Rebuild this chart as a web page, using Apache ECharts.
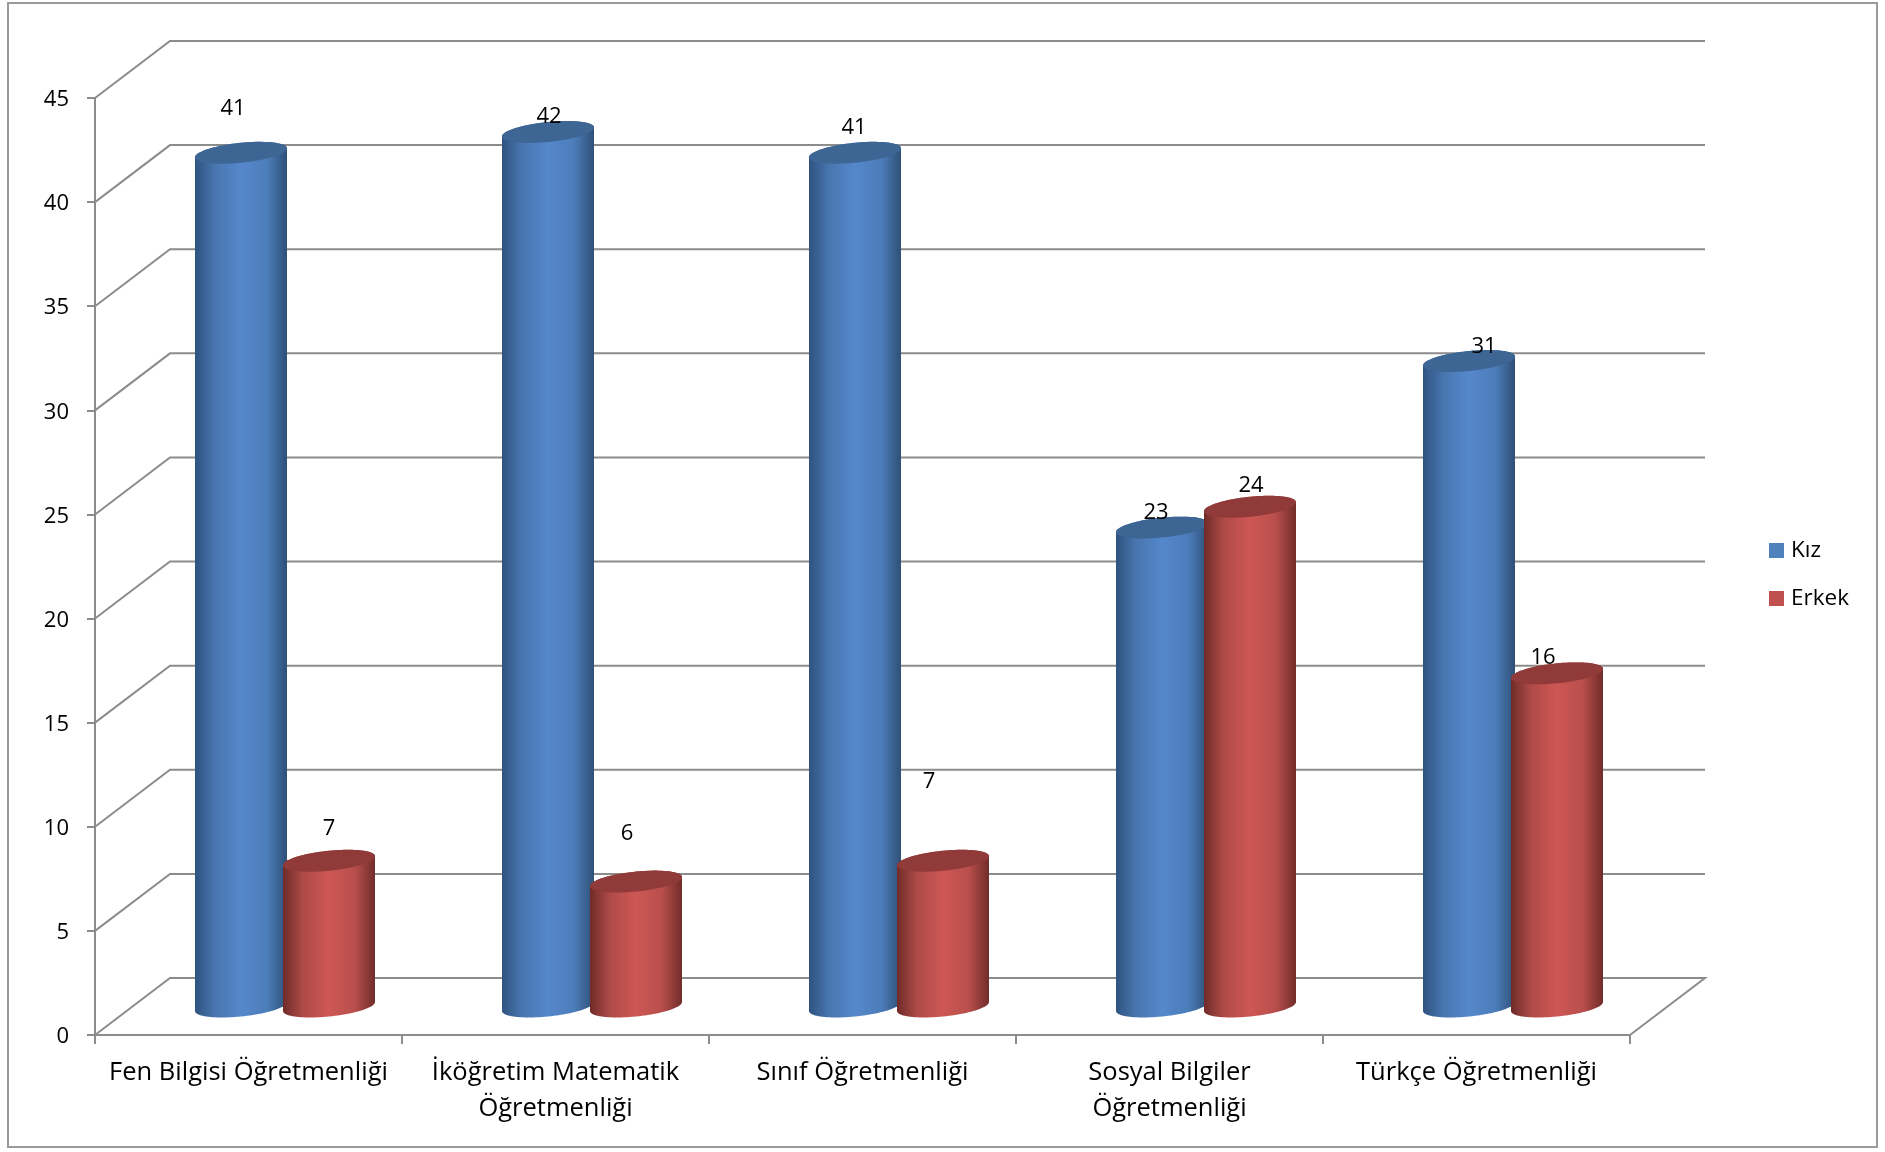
<!DOCTYPE html>
<html>
<head>
<meta charset="utf-8">
<style>html,body{margin:0;padding:0;background:#fff}#c{width:1885px;height:1152px}</style>
<script src="https://cdn.jsdelivr.net/npm/echarts@6/dist/echarts.min.js"></script>
</head>
<body>
<div id="c"></div>
<script>
const categories = ['Fen Bilgisi Öğretmenliği','İköğretim Matematik Öğretmenliği','Sınıf Öğretmenliği','Sosyal Bilgiler Öğretmenliği','Türkçe Öğretmenliği'];
const kiz = [41,42,41,23,31];
const erkek = [7,6,7,24,16];
const yTicks = [0,5,10,15,20,25,30,35,40,45];

// data labels were hand-placed in the original: offset from the cylinder's top centre
const kizLabelShift = [[-8,-44],[1,-15],[-1,-25],[-6,-15],[15,-14]];
const erkekLabelShift = [[0,-32],[-9,-48],[-14,-79],[1,-21],[-14,-16]];

const FONT = '"Open Sans", Calibri, sans-serif';
const GRID_COLOR = '#8c8c8c';
const DEPTH_X = 75, DEPTH_Y = 57;      // oblique depth of the chart box
const BAR_DEPTH_X = 36.5;              // cylinders stand at mid depth
const RADIUS = 46;                     // cylinder half width
const BAR_SHIFT = 44;                  // distance of a cylinder from the category centre
const TILT = 4.5, MINOR = 10;          // shape of the sheared top and bottom ellipses

const blueGrad = ['#2f5380','#4876af','#5587cb','#4c7ebb','#2f5077'];
const redGrad  = ['#6f2b29','#af4b48','#ce5754','#b84f4c','#712c2a'];
const blueTop = '#3d6694', redTop = '#903b39';

function gradient(c){
  return new echarts.graphic.LinearGradient(0,0,1,0,[
    {offset:0,color:c[0]},{offset:0.22,color:c[1]},{offset:0.5,color:c[2]},
    {offset:0.78,color:c[3]},{offset:1,color:c[4]}]);
}
function ell(cx,cy,from,to,n){
  const pts=[];
  for(let i=0;i<=n;i++){
    const t=from+(to-from)*i/n;
    pts.push([cx+RADIUS*Math.cos(t), cy-TILT*Math.cos(t)+MINOR*Math.sin(t)]);
  }
  return pts;
}
function cylinder(side,grad,topColor,shifts){
  return function(params,api){
    const idx=api.value(0), v=api.value(1);
    const top=api.coord([idx,v]), base=api.coord([idx,0]);
    const cx=top[0]+side*BAR_SHIFT+BAR_DEPTH_X;
    const topY=top[1]-DEPTH_Y/2, baseY=base[1]-DEPTH_Y/2;
    const body=ell(cx,baseY,0,Math.PI,48).concat(ell(cx,topY,Math.PI,2*Math.PI,48));
    const s=shifts[params.dataIndex];
    return {type:'group',children:[
      {type:'polygon',shape:{points:body},style:{fill:gradient(grad)}},
      {type:'polygon',shape:{points:ell(cx,topY,0,2*Math.PI,96)},style:{fill:topColor}},
      {type:'text',style:{text:String(v),x:cx+s[0],y:topY+s[1],align:'center',verticalAlign:'middle',
        fontSize:22,fontFamily:FONT,fill:'#000'}}
    ]};
  };
}
function wallLines(params,api){
  const y=api.coord([0,api.value(0)])[1];
  const x0=params.coordSys.x, x1=x0+params.coordSys.width;
  const pts=[[x0,y],[x0+DEPTH_X,y-DEPTH_Y],[x1+DEPTH_X,y-DEPTH_Y]];
  if(api.value(0)===0) pts.push([x1,y]);
  return {type:'polyline',shape:{points:pts},style:{stroke:GRID_COLOR,lineWidth:2,fill:'none'}};
}
// long names wrap before their last word
function wrapName(name){
  return name.length>24 ? name.replace(/ (\S+)$/,'\n$1') : name;
}

const chart=echarts.init(document.getElementById('c'),null,{renderer:'canvas'});
chart.setOption({
  animation:false,
  backgroundColor:'#fff',
  textStyle:{fontFamily:FONT},
  graphic:[{type:'rect',silent:true,shape:{x:8,y:3,width:1869,height:1144},
    style:{fill:'none',stroke:'#9a9a9a',lineWidth:2}}],
  grid:{left:95,right:255,top:98,bottom:117,containLabel:false},
  legend:{data:['Kız','Erkek'],orient:'vertical',left:1764,top:534,itemWidth:15,itemHeight:15,itemGap:25,icon:'rect',
    textStyle:{fontSize:22.5,color:'#000',fontFamily:FONT,padding:[3,0,0,2]}},
  xAxis:{type:'category',data:categories,
    axisLine:{lineStyle:{color:GRID_COLOR,width:2}},
    axisTick:{show:true,length:9,lineStyle:{color:GRID_COLOR,width:2}},
    axisLabel:{interval:0,color:'#000',fontSize:25.5,fontFamily:FONT,margin:20,lineHeight:36,formatter:wrapName},
    splitLine:{show:false}},
  yAxis:{type:'value',min:0,max:45,interval:5,
    axisLine:{show:true,lineStyle:{color:GRID_COLOR,width:2}},
    axisTick:{show:true,length:8,lineStyle:{color:GRID_COLOR,width:2}},
    axisLabel:{margin:26,formatter:'{t|{value}}',
      rich:{t:{color:'#000',fontSize:22,fontFamily:FONT,lineHeight:30,padding:[4,0,0,0]}}},
    splitLine:{show:false}},
  series:[
    {type:'custom',name:'wall',silent:true,z:1,renderItem:wallLines,data:yTicks.map(v=>[v]),encode:{y:0}},
    {type:'custom',name:'Kız',z:2,itemStyle:{color:'#4f81bd'},renderItem:cylinder(-1,blueGrad,blueTop,kizLabelShift),
      data:kiz.map((v,i)=>[i,v]),encode:{x:0,y:1}},
    {type:'custom',name:'Erkek',z:3,itemStyle:{color:'#c0504d'},renderItem:cylinder(1,redGrad,redTop,erkekLabelShift),
      data:erkek.map((v,i)=>[i,v]),encode:{x:0,y:1}}
  ]
});
</script>
</body>
</html>
